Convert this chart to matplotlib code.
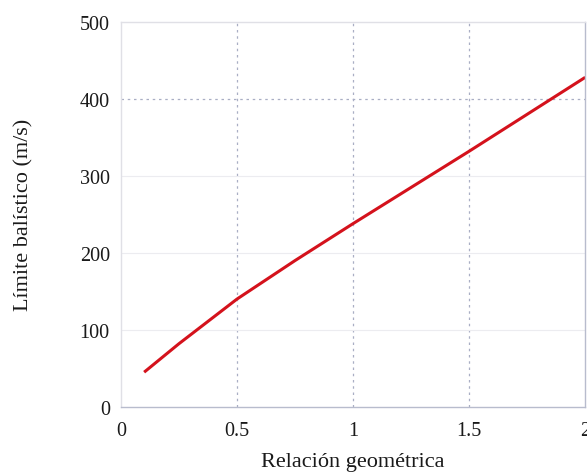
import matplotlib
matplotlib.use("Agg")
import matplotlib.pyplot as plt

# Data
relacion = [0.1, 0.25, 0.5, 0.75, 1.0, 1.25, 1.5, 1.75, 2.0]
limite = [45, 82, 140, 190, 238, 285, 332, 380, 428]

x_ticks = [0, 0.5, 1, 1.5, 2]
x_labels = ["0", "0.5", "1", "1.5", "2"]
y_ticks = [0, 100, 200, 300, 400, 500]

plt.rcParams["font.family"] = ["Liberation Serif", "DejaVu Serif"]

fig = plt.figure(figsize=(5.87, 4.77), dpi=100)
ax = fig.add_axes([0.206, 0.145, 0.791, 0.807])

ax.plot(relacion, limite, color="#d4121c", linewidth=2.2, solid_capstyle="butt")

ax.set_xlim(0, 2)
ax.set_ylim(0, 500)
ax.set_xticks(x_ticks)
ax.set_xticklabels(x_labels)
ax.set_yticks(y_ticks)
ax.tick_params(length=0, labelsize=14.5, colors="#1a1a1a")
ax.tick_params(axis="y", pad=8)
ax.tick_params(axis="x", pad=10)

for x in x_ticks[1:-1]:
    ax.axvline(x, color="#a9aec4", linestyle=(0, (2, 3)), linewidth=0.9, zorder=0)
for y in y_ticks[1:-1]:
    if y == 400:
        ax.axhline(y, color="#a9aec4", linestyle=(0, (2, 3)), linewidth=0.9, zorder=0)
    else:
        ax.axhline(y, color="#ececf0", linewidth=0.8, zorder=0)

for side in ("left", "top"):
    ax.spines[side].set_color("#e0e0e6")
for side in ("bottom", "right"):
    ax.spines[side].set_color("#b8bccd")
for s in ax.spines.values():
    s.set_linewidth(1.0)

ax.set_xlabel("Relación geométrica", fontsize=16, labelpad=9, color="#1a1a1a")
ax.set_ylabel("Límite balístico (m/s)", fontsize=16, labelpad=33, color="#1a1a1a")

fig.savefig("out.png", dpi=100)
